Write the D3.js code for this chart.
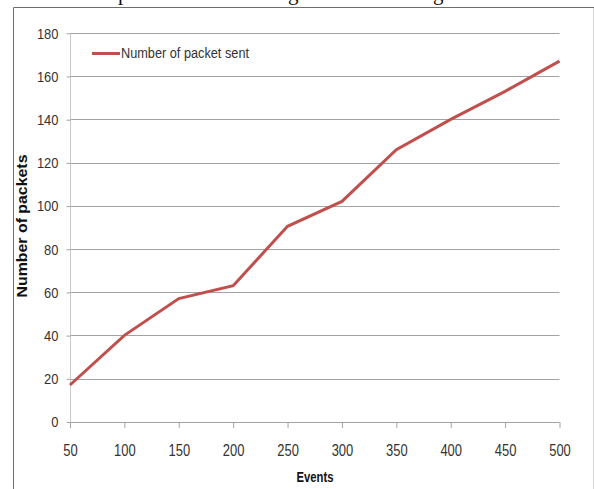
<!DOCTYPE html>
<html>
<head>
<meta charset="utf-8">
<script src="https://cdn.jsdelivr.net/npm/d3@7"></script>
<style>
html,body{margin:0;padding:0;background:#fff;}
svg{display:block;}
</style>
</head>
<body>
<svg id="chart" width="594" height="489"></svg>
<script>
const events = [50, 100, 150, 200, 250, 300, 350, 400, 450, 500];
const packetsSent = [17, 40, 57, 63, 90.5, 102, 126, 140, 153, 167];
const yTicks = [0, 20, 40, 60, 80, 100, 120, 140, 160, 180];
const seriesName = "Number of  packet sent";
const xTitle = "Events";
const yTitle = "Number of packets";

const svg = d3.select("#chart");
const lab = "'Liberation Sans',Arial,sans-serif";

// frame of the embedded chart
svg.append("path").attr("d","M13.5,489 L13.5,7.5 L594,7.5").attr("fill","none").attr("stroke","#6e6e6e").attr("stroke-width",1);
svg.append("line").attr("x1",593.5).attr("x2",593.5).attr("y1",8).attr("y2",489).attr("stroke","#d6d6d6");

// partial caption cut off at top (as in the reference)
[["p",118],["g",288],["g",433]].forEach(([t,x])=>{
  svg.append("text").attr("x",x).attr("y",0).attr("font-family","'Liberation Serif','Times New Roman',serif")
    .attr("font-size",21).attr("fill","#111").text(t);
});

const x = d3.scaleLinear().domain([50,500]).range([70,559.5]);
const y = d3.scaleLinear().domain([0,180]).range([421.7,33]);

// gridlines
svg.append("g").selectAll("line").data(yTicks.filter(d=>d>0)).join("line")
  .attr("x1",70).attr("x2",559.5)
  .attr("y1",d=>Math.round(y(d))+0.5).attr("y2",d=>Math.round(y(d))+0.5)
  .attr("stroke","#a3a3a3").attr("stroke-width",1);

const narrow = function(){ const s = d3.select(this).text(); d3.select(this).attr("textLength", s.length*7.2).attr("lengthAdjust","spacingAndGlyphs"); };

// y axis
const yAxis = d3.axisLeft(y).tickValues(yTicks).tickSize(4).tickPadding(8).tickFormat(d3.format("d"));
const gy = svg.append("g").attr("transform","translate(70.5,0.3)").call(yAxis);
gy.select(".domain").attr("stroke","#c8c8c8").attr("d","M0,33V428");
gy.selectAll(".tick line").attr("stroke","#a3a3a3");
gy.selectAll(".tick text").attr("font-family",lab).attr("font-size",15).attr("fill","#333").each(narrow);

// x axis
const xAxis = d3.axisBottom(x).tickValues(events).tickSize(6).tickPadding(17).tickFormat(d3.format("d"));
const gx = svg.append("g").attr("transform","translate(0,422)").call(xAxis);
gx.select(".domain").attr("stroke","#a3a3a3").attr("d","M70,0.5H559.5");
gx.selectAll(".tick line").attr("stroke","#a3a3a3");
gx.selectAll(".tick text").attr("font-family",lab).attr("font-size",16).attr("fill","#333").each(narrow);

// line
const line = d3.line().x((d,i)=>x(events[i])).y(d=>y(d));
svg.append("path").datum(packetsSent).attr("d",line).attr("fill","none")
  .attr("stroke","#c0504d").attr("stroke-width",3).attr("stroke-linejoin","miter");

// legend
svg.append("line").attr("x1",92).attr("x2",120).attr("y1",53.5).attr("y2",53.5).attr("stroke","#c0504d").attr("stroke-width",3);
svg.append("text").attr("x",121).attr("y",58).attr("font-family",lab).attr("font-size",14)
  .attr("fill","#333").attr("textLength",128).attr("lengthAdjust","spacingAndGlyphs").text(seriesName);

// titles
svg.append("text").attr("x",315).attr("y",482).attr("text-anchor","middle").attr("font-family",lab)
  .attr("font-weight","bold").attr("font-size",15).attr("fill","#111")
  .attr("textLength",37).attr("lengthAdjust","spacingAndGlyphs").text(xTitle);
svg.append("text").attr("transform","translate(27,226) rotate(-90)").attr("text-anchor","middle")
  .attr("font-family",lab).attr("font-weight","bold").attr("font-size",14).attr("fill","#111")
  .attr("textLength",143).attr("lengthAdjust","spacingAndGlyphs").text(yTitle);
</script>
</body>
</html>
